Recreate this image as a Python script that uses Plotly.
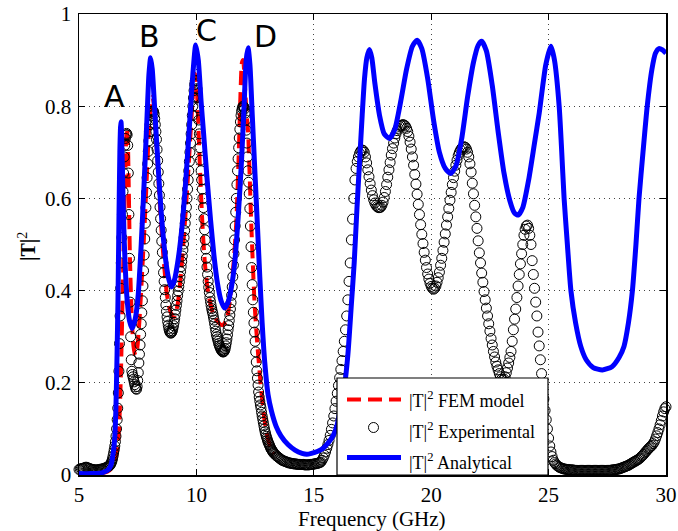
import plotly.graph_objects as go

# ---------------- data ----------------
x_ticks = [5, 10, 15, 20, 25, 30]
x_tick_text = ["5", "10", "15", "20", "25", "30"]
y_ticks = [0, 0.2, 0.4, 0.6, 0.8, 1.0]
y_tick_text = ["0", "0.2", "0.4", "0.6", "0.8", "1"]

series_names = ["|T|<sup>2</sup> FEM model", "|T|<sup>2</sup> Experimental", "|T|<sup>2</sup> Analytical"]
peak_labels = ["A", "B", "C", "D"]
peak_label_f = [6.53, 8.02, 10.44, 12.95]
peak_label_t = [0.822, 0.952, 0.965, 0.952]

analytic_f = [5.0, 5.5, 5.9, 6.1, 6.25, 6.35, 6.45, 6.52, 6.57, 6.62, 6.66, 6.7, 6.74, 6.77, 6.79, 6.81,
              6.85, 6.9, 6.97, 7.05, 7.15, 7.27, 7.4, 7.52, 7.65, 7.78, 7.9, 7.98, 8.05, 8.12, 8.25, 8.37,
              8.5, 8.66, 8.8, 8.93, 9.05, 9.2, 9.37, 9.55, 9.72, 9.85, 9.97, 10.08, 10.2, 10.3, 10.45,
              10.6, 10.75, 10.9, 11.05, 11.2, 11.35, 11.5, 11.63, 11.78, 11.92, 12.03, 12.12, 12.2, 12.28,
              12.38, 12.48, 12.6, 12.7, 12.8, 12.91, 13.05, 13.2, 13.4, 13.6, 13.9, 14.2, 14.5, 14.7,
              14.9, 15.15, 15.4, 15.65, 15.85, 16.0, 16.15, 16.3, 16.45, 16.6, 16.72, 16.84, 16.95,
              17.06, 17.16, 17.26, 17.37, 17.47, 17.6, 17.8, 18.0, 18.22, 18.45, 18.7, 18.95, 19.2,
              19.4, 19.6, 19.85, 20.1, 20.35, 20.6, 20.82, 21.05, 21.3, 21.55, 21.8, 22.0, 22.15, 22.35,
              22.6, 22.85, 23.1, 23.35, 23.55, 23.71, 23.9, 24.15, 24.4, 24.6, 24.88, 25.1, 25.25, 25.45,
              25.55, 25.66, 25.8, 25.95, 26.15, 26.37, 26.6, 26.9, 27.29, 27.7, 28.0, 28.21, 28.4, 28.57,
              28.72, 28.85, 29.02, 29.2, 29.4, 29.55, 29.7, 29.85, 30.0]
analytic_t = [0.003, 0.003, 0.004, 0.007, 0.012, 0.02, 0.045, 0.08, 0.14, 0.26, 0.38, 0.55, 0.70, 0.755,
              0.766, 0.745, 0.66, 0.55, 0.45, 0.38, 0.335, 0.318, 0.34, 0.39, 0.50, 0.64, 0.78, 0.87,
              0.905, 0.88, 0.77, 0.67, 0.57, 0.48, 0.43, 0.408, 0.42, 0.46, 0.53, 0.64, 0.77, 0.87, 0.933,
              0.90, 0.81, 0.745, 0.645, 0.555, 0.475, 0.415, 0.378, 0.362, 0.375, 0.41, 0.46, 0.56, 0.68,
              0.80, 0.90, 0.927, 0.89, 0.78, 0.67, 0.54, 0.43, 0.33, 0.245, 0.175, 0.138, 0.105, 0.085,
              0.066, 0.054, 0.047, 0.045, 0.047, 0.051, 0.058, 0.072, 0.088, 0.11, 0.15, 0.19, 0.26,
              0.37, 0.46, 0.58, 0.68, 0.78, 0.86, 0.905, 0.923, 0.905, 0.85, 0.78, 0.74, 0.73, 0.75,
              0.81, 0.88, 0.93, 0.943, 0.925, 0.86, 0.77, 0.70, 0.665, 0.654, 0.67, 0.73, 0.82, 0.895,
              0.932, 0.941, 0.92, 0.845, 0.745, 0.655, 0.595, 0.568, 0.564, 0.58, 0.64, 0.72, 0.785,
              0.89, 0.93, 0.90, 0.80, 0.71, 0.60, 0.50, 0.40, 0.33, 0.279, 0.25, 0.233, 0.228, 0.235,
              0.255, 0.279, 0.33, 0.40, 0.50, 0.60, 0.70, 0.80, 0.88, 0.915, 0.925, 0.922, 0.915]

fem_f = [5.0, 5.6, 6.0, 6.3, 6.5, 6.6, 6.67, 6.73, 6.79, 6.85, 6.91, 6.97, 7.01, 7.04, 7.08, 7.12, 7.17,
         7.24, 7.32, 7.4, 7.48, 7.58, 7.7, 7.81, 7.9, 7.98, 8.06, 8.13, 8.2, 8.3, 8.45, 8.6, 8.75, 8.9,
         9.05, 9.2, 9.35, 9.5, 9.62, 9.75, 9.86, 9.93, 9.99, 10.06, 10.14, 10.25, 10.36, 10.5, 10.7,
         10.9, 11.1, 11.28, 11.45, 11.6, 11.7, 11.8, 11.88, 11.94, 11.99, 12.06, 12.13, 12.2, 12.34,
         12.48, 12.6, 12.75, 12.9, 13.02, 13.15, 13.3]
fem_t = [0.002, 0.002, 0.004, 0.01, 0.025, 0.045, 0.07, 0.13, 0.23, 0.37, 0.52, 0.65, 0.73, 0.752, 0.725,
         0.62, 0.47, 0.35, 0.28, 0.26, 0.275, 0.34, 0.45, 0.56, 0.66, 0.75, 0.80, 0.82, 0.80, 0.72, 0.58,
         0.47, 0.39, 0.353, 0.343, 0.37, 0.44, 0.54, 0.63, 0.74, 0.83, 0.871, 0.86, 0.79, 0.68, 0.55,
         0.46, 0.395, 0.352, 0.333, 0.325, 0.335, 0.39, 0.47, 0.55, 0.69, 0.83, 0.895, 0.90, 0.85, 0.79,
         0.745, 0.54, 0.37, 0.28, 0.19, 0.12, 0.085, 0.06, 0.045]

# experimental sweep, (frequency GHz, |T|^2) pairs
exp_low = [(5.00, 0.012), (5.05, 0.013), (5.10, 0.014), (5.15, 0.014), (5.20, 0.015), (5.25, 0.016),
           (5.30, 0.017), (5.35, 0.016), (5.40, 0.015), (5.45, 0.014), (5.50, 0.013), (5.55, 0.012),
           (5.60, 0.012), (5.65, 0.011), (5.70, 0.011), (5.75, 0.011), (5.80, 0.011), (5.85, 0.012),
           (5.90, 0.012), (5.95, 0.013), (6.00, 0.013), (6.05, 0.014), (6.10, 0.015), (6.15, 0.016),
           (6.20, 0.017), (6.25, 0.019)]
exp_peaks = [(6.300, 0.020), (6.325, 0.022), (6.350, 0.024), (6.375, 0.027), (6.400, 0.030), (6.425, 0.035),
             (6.450, 0.041), (6.475, 0.048), (6.500, 0.055), (6.525, 0.063), (6.550, 0.072), (6.575, 0.084),
             (6.600, 0.100), (6.625, 0.120), (6.650, 0.145), (6.675, 0.178), (6.700, 0.225), (6.725, 0.285),
             (6.750, 0.345), (6.775, 0.405), (6.800, 0.460), (6.825, 0.515), (6.850, 0.565), (6.875, 0.615),
             (6.900, 0.655), (6.925, 0.690), (6.950, 0.715), (6.975, 0.730), (7.000, 0.738), (7.025, 0.741),
             (7.050, 0.738), (7.075, 0.715), (7.100, 0.655), (7.125, 0.565), (7.150, 0.470), (7.175, 0.375),
             (7.200, 0.300), (7.225, 0.250), (7.250, 0.225), (7.275, 0.218), (7.300, 0.213), (7.325, 0.208),
             (7.350, 0.202), (7.375, 0.196), (7.400, 0.191), (7.425, 0.187), (7.450, 0.186), (7.475, 0.192),
             (7.500, 0.205), (7.525, 0.222), (7.550, 0.243), (7.575, 0.262), (7.600, 0.282), (7.625, 0.305),
             (7.650, 0.328), (7.675, 0.352), (7.700, 0.378), (7.725, 0.410), (7.750, 0.443), (7.775, 0.477),
             (7.800, 0.512), (7.825, 0.546), (7.850, 0.580), (7.875, 0.613), (7.900, 0.645), (7.925, 0.675),
             (7.950, 0.702), (7.975, 0.725), (8.000, 0.745), (8.025, 0.760), (8.050, 0.771), (8.075, 0.779),
             (8.100, 0.785), (8.125, 0.789), (8.150, 0.790), (8.175, 0.788), (8.200, 0.783), (8.225, 0.773),
             (8.250, 0.760), (8.275, 0.745), (8.300, 0.728), (8.325, 0.706), (8.350, 0.682), (8.375, 0.657),
             (8.400, 0.632), (8.425, 0.607), (8.450, 0.581), (8.475, 0.556), (8.500, 0.531), (8.525, 0.507),
             (8.550, 0.483), (8.575, 0.460), (8.600, 0.439), (8.625, 0.420), (8.650, 0.402), (8.675, 0.385),
             (8.700, 0.369), (8.725, 0.355), (8.750, 0.343), (8.775, 0.333), (8.800, 0.325), (8.825, 0.318),
             (8.850, 0.313), (8.875, 0.310), (8.900, 0.308), (8.925, 0.308), (8.950, 0.310), (8.975, 0.313),
             (9.000, 0.318), (9.025, 0.324), (9.050, 0.331), (9.075, 0.339), (9.100, 0.348), (9.125, 0.358),
             (9.150, 0.368), (9.175, 0.378), (9.200, 0.389), (9.225, 0.399), (9.250, 0.409), (9.275, 0.419),
             (9.300, 0.430), (9.325, 0.441), (9.350, 0.452), (9.375, 0.463), (9.400, 0.475), (9.425, 0.488),
             (9.450, 0.501), (9.475, 0.515), (9.500, 0.530), (9.525, 0.546), (9.550, 0.563), (9.575, 0.581),
             (9.600, 0.600), (9.625, 0.620), (9.650, 0.640), (9.675, 0.660), (9.700, 0.680), (9.725, 0.700),
             (9.750, 0.720), (9.775, 0.740), (9.800, 0.760), (9.825, 0.780), (9.850, 0.800), (9.875, 0.818),
             (9.900, 0.834), (9.925, 0.847), (9.950, 0.855), (9.975, 0.856), (10.000, 0.850), (10.025, 0.838),
             (10.050, 0.820), (10.075, 0.797), (10.100, 0.770), (10.125, 0.740), (10.150, 0.710), (10.175, 0.683),
             (10.200, 0.660), (10.225, 0.640), (10.250, 0.620), (10.275, 0.600), (10.300, 0.580), (10.325, 0.556),
             (10.350, 0.532), (10.375, 0.510), (10.400, 0.490), (10.425, 0.470), (10.450, 0.451), (10.475, 0.435),
             (10.500, 0.420), (10.525, 0.407), (10.550, 0.396), (10.575, 0.385), (10.600, 0.376), (10.625, 0.368),
             (10.650, 0.361), (10.675, 0.355), (10.700, 0.350), (10.725, 0.343), (10.750, 0.336), (10.775, 0.328),
             (10.800, 0.320), (10.825, 0.312), (10.850, 0.305), (10.875, 0.300), (10.900, 0.295), (10.925, 0.290),
             (10.950, 0.285), (10.975, 0.281), (11.000, 0.278), (11.025, 0.275), (11.050, 0.272), (11.075, 0.270),
             (11.100, 0.268), (11.125, 0.267), (11.150, 0.267), (11.175, 0.268), (11.200, 0.270), (11.225, 0.274),
             (11.250, 0.280), (11.275, 0.287), (11.300, 0.295), (11.325, 0.304), (11.350, 0.315), (11.375, 0.324),
             (11.400, 0.335), (11.425, 0.347), (11.450, 0.360), (11.475, 0.374), (11.500, 0.390), (11.525, 0.408),
             (11.550, 0.430), (11.575, 0.455), (11.600, 0.480), (11.625, 0.510), (11.650, 0.540), (11.675, 0.570),
             (11.700, 0.600), (11.725, 0.630), (11.750, 0.660), (11.775, 0.686), (11.800, 0.710), (11.825, 0.731),
             (11.850, 0.750), (11.875, 0.766), (11.900, 0.780), (11.925, 0.789), (11.950, 0.795), (11.975, 0.799),
             (12.000, 0.800), (12.025, 0.798), (12.050, 0.794), (12.075, 0.785), (12.100, 0.770), (12.125, 0.748),
             (12.150, 0.720), (12.175, 0.690), (12.200, 0.660), (12.225, 0.635), (12.250, 0.610), (12.275, 0.578),
             (12.300, 0.540), (12.325, 0.495), (12.350, 0.450), (12.375, 0.413), (12.400, 0.380), (12.425, 0.353),
             (12.450, 0.330), (12.475, 0.310), (12.500, 0.290), (12.525, 0.267), (12.550, 0.245), (12.575, 0.226),
             (12.600, 0.210), (12.625, 0.195), (12.650, 0.180), (12.675, 0.169), (12.700, 0.160), (12.725, 0.152),
             (12.750, 0.145), (12.775, 0.136), (12.800, 0.128), (12.825, 0.121), (12.850, 0.114), (12.875, 0.107),
             (12.900, 0.100), (12.925, 0.094), (12.950, 0.089), (12.975, 0.084), (13.000, 0.080), (13.025, 0.076),
             (13.050, 0.072), (13.075, 0.069), (13.100, 0.066), (13.125, 0.063), (13.150, 0.060), (13.175, 0.057),
             (13.200, 0.055), (13.225, 0.053), (13.250, 0.051), (13.275, 0.049), (13.300, 0.047)]
exp_gap = [(13.35, 0.045), (13.40, 0.042), (13.45, 0.040), (13.50, 0.038), (13.55, 0.036), (13.60, 0.034),
           (13.65, 0.032), (13.70, 0.031), (13.75, 0.030), (13.80, 0.029), (13.85, 0.028), (13.90, 0.027),
           (13.95, 0.026), (14.00, 0.026), (14.05, 0.025), (14.10, 0.025), (14.15, 0.024), (14.20, 0.024),
           (14.25, 0.024), (14.30, 0.023), (14.35, 0.023), (14.40, 0.023), (14.45, 0.023), (14.50, 0.023),
           (14.55, 0.023), (14.60, 0.022), (14.65, 0.022), (14.70, 0.022), (14.75, 0.022), (14.80, 0.022),
           (14.85, 0.023), (14.90, 0.023), (14.95, 0.023), (15.00, 0.024), (15.05, 0.024), (15.10, 0.025),
           (15.15, 0.025), (15.20, 0.026), (15.25, 0.027)]
exp_high = [(15.30, 0.028), (15.35, 0.032), (15.40, 0.037), (15.45, 0.043), (15.50, 0.050), (15.55, 0.058),
            (15.60, 0.066), (15.65, 0.075), (15.70, 0.086), (15.75, 0.099), (15.80, 0.113), (15.85, 0.128),
            (15.90, 0.144), (15.95, 0.160), (16.00, 0.177), (16.05, 0.194), (16.10, 0.211), (16.15, 0.229),
            (16.20, 0.248), (16.25, 0.268), (16.30, 0.290), (16.35, 0.315), (16.40, 0.345), (16.45, 0.380),
            (16.50, 0.420), (16.55, 0.460), (16.60, 0.510), (16.65, 0.555), (16.70, 0.600), (16.75, 0.640),
            (16.80, 0.665), (16.85, 0.680), (16.90, 0.690), (16.95, 0.698), (17.00, 0.703), (17.05, 0.705),
            (17.10, 0.704), (17.15, 0.700), (17.20, 0.690), (17.25, 0.677), (17.30, 0.662), (17.35, 0.647),
            (17.40, 0.632), (17.45, 0.618), (17.50, 0.606), (17.55, 0.597), (17.60, 0.590), (17.65, 0.585),
            (17.70, 0.582), (17.75, 0.580), (17.80, 0.580), (17.85, 0.581), (17.90, 0.585), (17.95, 0.592),
            (18.00, 0.602), (18.05, 0.615), (18.10, 0.630), (18.15, 0.646), (18.20, 0.662), (18.25, 0.678),
            (18.30, 0.694), (18.35, 0.708), (18.40, 0.720), (18.45, 0.731), (18.50, 0.740), (18.55, 0.747),
            (18.60, 0.752), (18.65, 0.756), (18.70, 0.758), (18.75, 0.759), (18.80, 0.760), (18.85, 0.759),
            (18.90, 0.757), (18.95, 0.752), (19.00, 0.745), (19.05, 0.735), (19.10, 0.722), (19.15, 0.707),
            (19.20, 0.690), (19.25, 0.672), (19.30, 0.652), (19.35, 0.631), (19.40, 0.609), (19.45, 0.587),
            (19.50, 0.565), (19.55, 0.543), (19.60, 0.522), (19.65, 0.502), (19.70, 0.483), (19.75, 0.466),
            (19.80, 0.450), (19.85, 0.436), (19.90, 0.425), (19.95, 0.416), (20.00, 0.409), (20.05, 0.405),
            (20.10, 0.403), (20.15, 0.405), (20.20, 0.410), (20.25, 0.418), (20.30, 0.428), (20.35, 0.440),
            (20.40, 0.455), (20.45, 0.470), (20.50, 0.487), (20.55, 0.505), (20.60, 0.523), (20.65, 0.542),
            (20.70, 0.560), (20.75, 0.578), (20.80, 0.596), (20.85, 0.613), (20.90, 0.630), (20.95, 0.645),
            (21.00, 0.659), (21.05, 0.672), (21.10, 0.683), (21.15, 0.693), (21.20, 0.700), (21.25, 0.705),
            (21.30, 0.709), (21.35, 0.711), (21.40, 0.712), (21.45, 0.711), (21.50, 0.707), (21.55, 0.700),
            (21.60, 0.690), (21.65, 0.675), (21.70, 0.657), (21.75, 0.633), (21.80, 0.610), (21.85, 0.585),
            (21.90, 0.560), (21.95, 0.535), (22.00, 0.508), (22.05, 0.482), (22.10, 0.460), (22.15, 0.438),
            (22.20, 0.418), (22.25, 0.398), (22.30, 0.380), (22.35, 0.362), (22.40, 0.345), (22.45, 0.328),
            (22.50, 0.312), (22.55, 0.296), (22.60, 0.282), (22.65, 0.268), (22.70, 0.256), (22.75, 0.245),
            (22.80, 0.236), (22.85, 0.228), (22.90, 0.220), (22.95, 0.213), (23.00, 0.208), (23.05, 0.206),
            (23.10, 0.208), (23.15, 0.213), (23.20, 0.222), (23.25, 0.232), (23.30, 0.243), (23.35, 0.255),
            (23.40, 0.268), (23.45, 0.290), (23.50, 0.315), (23.55, 0.338), (23.60, 0.360), (23.65, 0.385),
            (23.70, 0.410), (23.75, 0.435), (23.80, 0.458), (23.85, 0.480), (23.90, 0.500), (23.95, 0.520),
            (24.00, 0.533), (24.05, 0.540), (24.10, 0.542), (24.15, 0.535), (24.20, 0.520), (24.25, 0.500),
            (24.30, 0.465), (24.35, 0.435), (24.40, 0.405), (24.45, 0.375), (24.50, 0.345), (24.55, 0.310),
            (24.60, 0.280), (24.65, 0.250), (24.70, 0.220), (24.75, 0.190), (24.80, 0.165), (24.85, 0.140),
            (24.90, 0.120), (24.95, 0.100), (25.00, 0.080), (25.05, 0.063), (25.10, 0.050), (25.15, 0.040),
            (25.20, 0.032), (25.25, 0.027), (25.30, 0.024), (25.35, 0.021), (25.40, 0.019), (25.45, 0.017),
            (25.50, 0.016), (25.55, 0.015), (25.60, 0.014), (25.65, 0.013), (25.70, 0.013), (25.75, 0.012),
            (25.80, 0.012), (25.85, 0.012), (25.90, 0.011), (25.95, 0.011), (26.00, 0.011), (26.05, 0.011),
            (26.10, 0.010), (26.15, 0.010), (26.20, 0.010), (26.25, 0.010), (26.30, 0.010), (26.35, 0.010),
            (26.40, 0.010), (26.45, 0.010), (26.50, 0.010), (26.55, 0.010), (26.60, 0.010), (26.65, 0.010),
            (26.70, 0.010), (26.75, 0.010), (26.80, 0.010), (26.85, 0.010), (26.90, 0.010), (26.95, 0.010),
            (27.00, 0.010), (27.05, 0.010), (27.10, 0.010), (27.15, 0.010), (27.20, 0.010), (27.25, 0.010),
            (27.30, 0.010), (27.35, 0.010), (27.40, 0.010), (27.45, 0.010), (27.50, 0.010), (27.55, 0.010),
            (27.60, 0.010), (27.65, 0.010), (27.70, 0.011), (27.75, 0.011), (27.80, 0.011), (27.85, 0.012),
            (27.90, 0.012), (27.95, 0.013), (28.00, 0.013), (28.05, 0.014), (28.10, 0.015), (28.15, 0.016),
            (28.20, 0.017), (28.25, 0.018), (28.30, 0.019), (28.35, 0.020), (28.40, 0.021), (28.45, 0.023),
            (28.50, 0.024), (28.55, 0.026), (28.60, 0.027), (28.65, 0.029), (28.70, 0.030), (28.75, 0.032),
            (28.80, 0.033), (28.85, 0.035), (28.90, 0.037), (28.95, 0.040), (29.00, 0.042), (29.05, 0.045),
            (29.10, 0.048), (29.15, 0.051), (29.20, 0.054), (29.25, 0.057), (29.30, 0.059), (29.35, 0.062),
            (29.40, 0.064), (29.45, 0.068), (29.50, 0.072), (29.55, 0.078), (29.60, 0.085), (29.65, 0.092),
            (29.70, 0.100), (29.75, 0.109), (29.80, 0.118), (29.85, 0.128), (29.90, 0.137), (29.95, 0.144),
            (30.00, 0.148)]

exp_points = exp_low + exp_peaks + exp_gap + exp_high
exp_f = [p[0] for p in exp_points]
exp_t = [p[1] for p in exp_points]

# ---------------- styling ----------------
SERIF = "Liberation Serif"
RED = "#ff0000"
BLUE = "#0000ff"
L, R, T, B = 79, 12, 14, 56
W, H = 678, 531
PW, PH = W - L - R, H - T - B


def px(x):
    return (x - L) / PW


def py(y):
    return (H - B - y) / PH


fig = go.Figure()

fig.add_trace(go.Scatter(x=fem_f, y=fem_t, mode="lines", name=series_names[0],
                         line=dict(color=RED, width=4, dash="14px,7px", shape="spline", smoothing=0.6),
                         showlegend=False))
fig.add_trace(go.Scatter(x=exp_f, y=exp_t, mode="markers", name=series_names[1],
                         marker=dict(symbol="circle-open", size=10, color="black", line=dict(width=1, color="black")),
                         cliponaxis=False, showlegend=False))
fig.add_trace(go.Scatter(x=analytic_f, y=analytic_t, mode="lines", name=series_names[2],
                         line=dict(color=BLUE, width=5, shape="spline", smoothing=0.6),
                         showlegend=False))

axis_common = dict(showline=True, linecolor="black", linewidth=1.5, mirror="ticks",
                   ticks="inside", ticklen=6, tickwidth=1, tickcolor="black",
                   showgrid=True, gridcolor="#444444", gridwidth=1, griddash="1px,4px",
                   zeroline=False, automargin=False,
                   tickfont=dict(family=SERIF, size=21, color="black"))

fig.update_xaxes(range=[5, 30], tickmode="array", tickvals=x_ticks, ticktext=x_tick_text,
                 ticklabelstandoff=0, **axis_common)
fig.update_yaxes(range=[0, 1], tickmode="array", tickvals=y_ticks, ticktext=y_tick_text,
                 ticklabelstandoff=2, **axis_common)

annotations = []
for lab, f, t in zip(peak_labels, peak_label_f, peak_label_t):
    annotations.append(dict(x=f, y=t, xref="x", yref="y", text=lab, showarrow=False,
                            xanchor="center", yanchor="middle",
                            font=dict(family="DejaVu Sans", size=30, color="black")))

annotations.append(dict(x=px(372), y=py(518.5), xref="paper", yref="paper", text="Frequency (GHz)",
                        showarrow=False, xanchor="center", yanchor="middle",
                        font=dict(family=SERIF, size=21, color="black")))
annotations.append(dict(x=px(27), y=py(247), xref="paper", yref="paper", text="<b>|T|</b><sup>2</sup>",
                        showarrow=False, xanchor="center", yanchor="middle", textangle=-90,
                        font=dict(family=SERIF, size=20, color="black")))

# legend box (drawn manually)
leg_x0, leg_x1, leg_top = 337, 548, 378
rows_y = [399, 430.5, 461]
shapes = [dict(type="rect", xref="paper", yref="paper", x0=px(leg_x0), x1=px(leg_x1), y0=0, y1=py(leg_top),
               fillcolor="white", line=dict(color="black", width=1.2), layer="above"),
          dict(type="line", xref="paper", yref="paper", x0=px(347), x1=px(401), y0=py(399.5), y1=py(399.5),
               line=dict(color=RED, width=4, dash="14px,7px"), layer="above"),
          dict(type="circle", xref="paper", yref="paper", xsizemode="pixel", ysizemode="pixel",
               xanchor=px(373.5), yanchor=py(427.5), x0=-5, x1=5, y0=-5, y1=5,
               line=dict(color="black", width=1), fillcolor="rgba(0,0,0,0)", layer="above"),
          dict(type="line", xref="paper", yref="paper", x0=px(347), x1=px(401), y0=py(457.5), y1=py(457.5),
               line=dict(color=BLUE, width=5), layer="above")]
for name, ry in zip(series_names, rows_y):
    annotations.append(dict(x=px(407), y=py(ry), xref="paper", yref="paper", text=name, showarrow=False,
                            xanchor="left", yanchor="middle", font=dict(family=SERIF, size=18, color="black")))

fig.update_layout(width=W, height=H, margin=dict(l=L, r=R, t=T, b=B, autoexpand=False),
                  paper_bgcolor="white", plot_bgcolor="white", showlegend=False,
                  annotations=annotations, shapes=shapes)

fig.write_html("out.html", config={"displayModeBar": False, "staticPlot": True},
               post_script="document.body.style.margin='0px';")
